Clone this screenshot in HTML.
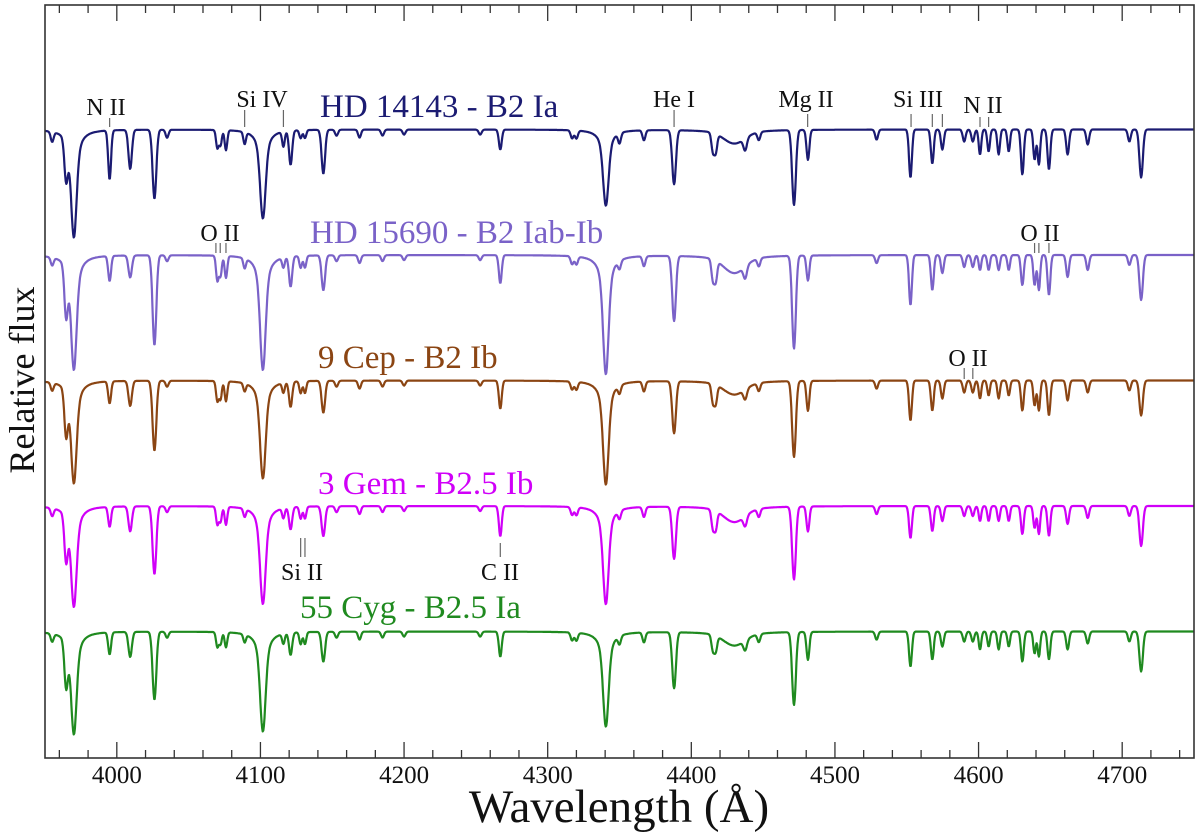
<!DOCTYPE html>
<html><head><meta charset="utf-8"><style>
html,body{margin:0;padding:0;background:#fff}
svg{display:block;font-family:"Liberation Serif",serif}
</style></head><body>
<svg id="chart" width="1200" height="837">
<g id="spectra"></g>
<g id="ids"></g>
<g id="axes"></g>
</svg>
<script>
const lineWl = [3955,3964.7,3970.1,3995,4009.3,4026.2,4035,4070,4072.2,4076,4089,4101.7,4116,4121,4128,4131,4143.8,4153,4169,4185,4200,4253,4267,4317,4320,4340.5,4350,4367,4388,4415,4417,4430,4437.5,4447,4471.5,4481.2,4529,4552.6,4567.8,4574.8,4590,4596,4601,4607,4614,4621,4630.5,4639,4642,4649,4662,4676,4705,4713.2];
const lineWidth = [1,1.2,1.8,1,1.2,1.3,1,0.9,0.9,0.9,0.9,1.8,0.9,1.1,0.9,0.9,1.2,1,1,1,1,1,1,1,1,1.8,1,1,1.3,1,1,7,1.2,1,1.3,1,1,1,1,1,1,1,0.9,0.9,0.9,0.9,1,0.9,0.9,1,1,1,1,1.2];
const depthHD14143 = [10,40,108,49,39,69,8,18,15,20,12,89,15,34,8,8,44,6,8,6,5,5,20,8,8,76,10,10,54,18,18,14,12,8,75,30,10,48,34,20,12,12,25,22,25,22,45,30,35,40,25,15,12,48];
const depthHD15690 = [8,50,115,25,22,90,6,25,20,22,10,115,10,30,12,12,35,6,8,6,5,5,28,8,8,119,8,10,65,20,20,18,12,8,93,25,8,50,35,18,12,12,15,15,15,15,30,30,35,40,22,15,10,45];
const depth9Cep = [8,45,103,22,25,70,6,20,18,20,8,98,10,25,12,12,32,6,8,6,5,5,28,8,8,104,8,10,52,18,18,14,10,8,76,30,8,40,30,18,12,12,18,15,18,15,30,25,30,35,20,12,10,35];
const depth3Gem = [8,45,101,20,25,68,6,18,15,18,8,98,10,22,12,12,30,6,8,6,5,5,30,8,8,98,8,10,52,18,18,16,10,8,73,25,8,32,25,15,10,10,15,15,15,15,28,22,28,30,18,12,10,40];
const depth55Cyg = [8,45,103,22,25,68,6,15,12,15,8,100,10,22,12,12,30,6,8,6,5,5,25,8,8,95,8,10,56,15,15,14,10,8,73,28,8,35,28,15,10,10,18,15,18,15,30,22,25,28,18,12,10,40];
const starNames = ["HD 14143 - B2 Ia","HD 15690 - B2 Iab-Ib","9 Cep - B2 Ib","3 Gem - B2.5 Ib","55 Cyg - B2.5 Ia"];
const starOffsets = [4,3,2,1,0];
const xTicks = [4000,4100,4200,4300,4400,4500,4600,4700];

const NS="http://www.w3.org/2000/svg";
const colors=["#1b1b72","#7a62c8","#8b4513","#d000f8","#1f8a1f"];
const labelPos=[[320,117],[310,243],[318,368],[318,494],[300,618]];
const X0=45,X1=1194,Y0=5,Y1=758,W0=3950,W1=4750;
const xs=w=>X0+(w-W0)*(X1-X0)/(W1-W0);
const ys=v=>757-v*125.5;
function el(t,a,p){const e=document.createElementNS(NS,t);for(const k in a)e.setAttribute(k,a[k]);(p||document.getElementById('chart')).appendChild(e);return e;}
const depths=[depthHD14143,depthHD15690,depth9Cep,depth3Gem,depth55Cyg];
const gS=document.getElementById('spectra');
depths.forEach((dep,si)=>{
  let d="";
  for(let w=W0;w<=W1;w+=0.4){
    let f=1;
    lineWl.forEach((lw,i)=>{
      const s=lineWidth[i],dx=w-lw,a=dep[i]/125.5;
      const g=Math.exp(-0.5*dx*dx/(s*s));
      const broad=s>=1.8?0.35/(1+(dx/(s*2.2))**2):0;
      f-=a*(s>=1.8?0.65*g+broad:g);
    });
    d+=(d?"L":"M")+xs(w).toFixed(1)+","+ys(f+starOffsets[si]).toFixed(1);
  }
  const p=el('path',{d:d,fill:'none',stroke:colors[si],'stroke-width':2.2,'stroke-linejoin':'round'},gS);
  
  
  const t=el('text',{x:labelPos[si][0],y:labelPos[si][1],'font-size':33,fill:colors[si]},gS);
  t.textContent=starNames[si];
  
  
});
const ids=[
 {n:"N II",lx:106,ly:115,ws:[3995],y1:118,y2:127},
 {n:"Si IV",lx:262,ly:107,ws:[4089,4116],y1:110,y2:127},
 {n:"He I",lx:674,ly:107,ws:[4388],y1:110,y2:127},
 {n:"Mg II",lx:806,ly:107,ws:[4481],y1:114,y2:127},
 {n:"Si III",lx:918,ly:107,ws:[4553,4567.8,4574.8],y1:114,y2:127},
 {n:"N II",lx:983,ly:113,ws:[4601,4607],y1:117,y2:127},
 {n:"O II",lx:220,ly:241,ws:[4069,4072,4076],y1:243,y2:253},
 {n:"O II",lx:1040,ly:241,ws:[4639,4642,4649],y1:243,y2:253},
 {n:"O II",lx:968,ly:366,ws:[4590,4596],y1:368,y2:379},
 {n:"Si II",lx:302,ly:580,ws:[4128,4131],y1:538,y2:557},
 {n:"C II",lx:500,ly:580,ws:[4267],y1:543,y2:557}
];
const gI=document.getElementById('ids');
ids.forEach(o=>{
  const t=el('text',{x:o.lx,y:o.ly,'font-size':24,'text-anchor':'middle',fill:'#111'},gI);
  t.textContent=o.n;
  
  
  o.ws.forEach(w=>{const l=el('line',{x1:xs(w),x2:xs(w),y1:o.y1,y2:o.y2,stroke:'#666','stroke-width':1.2},gI);
    
    });
});
const gA=document.getElementById('axes');
const fr=el('rect',{x:X0,y:Y0,width:X1-X0,height:Y1-Y0,fill:'none',stroke:'#333','stroke-width':1.6},gA);


for(let w=3960;w<=4740;w+=20){
  const major=w%100===0;
  const len=major?16:8;
  const l=el('line',{x1:xs(w),x2:xs(w),y1:Y1,y2:Y1-len,stroke:'#333','stroke-width':1.3},gA);
  
  
  const l2=el('line',{x1:xs(w),x2:xs(w),y1:Y0,y2:Y0+len,stroke:'#333','stroke-width':1.3},gA);
  
  
}
xTicks.forEach(w=>{
  const t=el('text',{x:xs(w),y:783,'font-size':25,'text-anchor':'middle',fill:'#111'},gA);
  t.textContent=w;
  
  
});
const xt=el('text',{x:619,y:822,'font-size':47,'text-anchor':'middle',fill:'#111'},gA);
xt.textContent="Wavelength (Å)";


const yt=el('text',{x:0,y:0,'font-size':36,'text-anchor':'middle',fill:'#111',transform:'translate(34,380) rotate(-90)'},gA);
yt.textContent="Relative flux";


</script>
</body></html>
